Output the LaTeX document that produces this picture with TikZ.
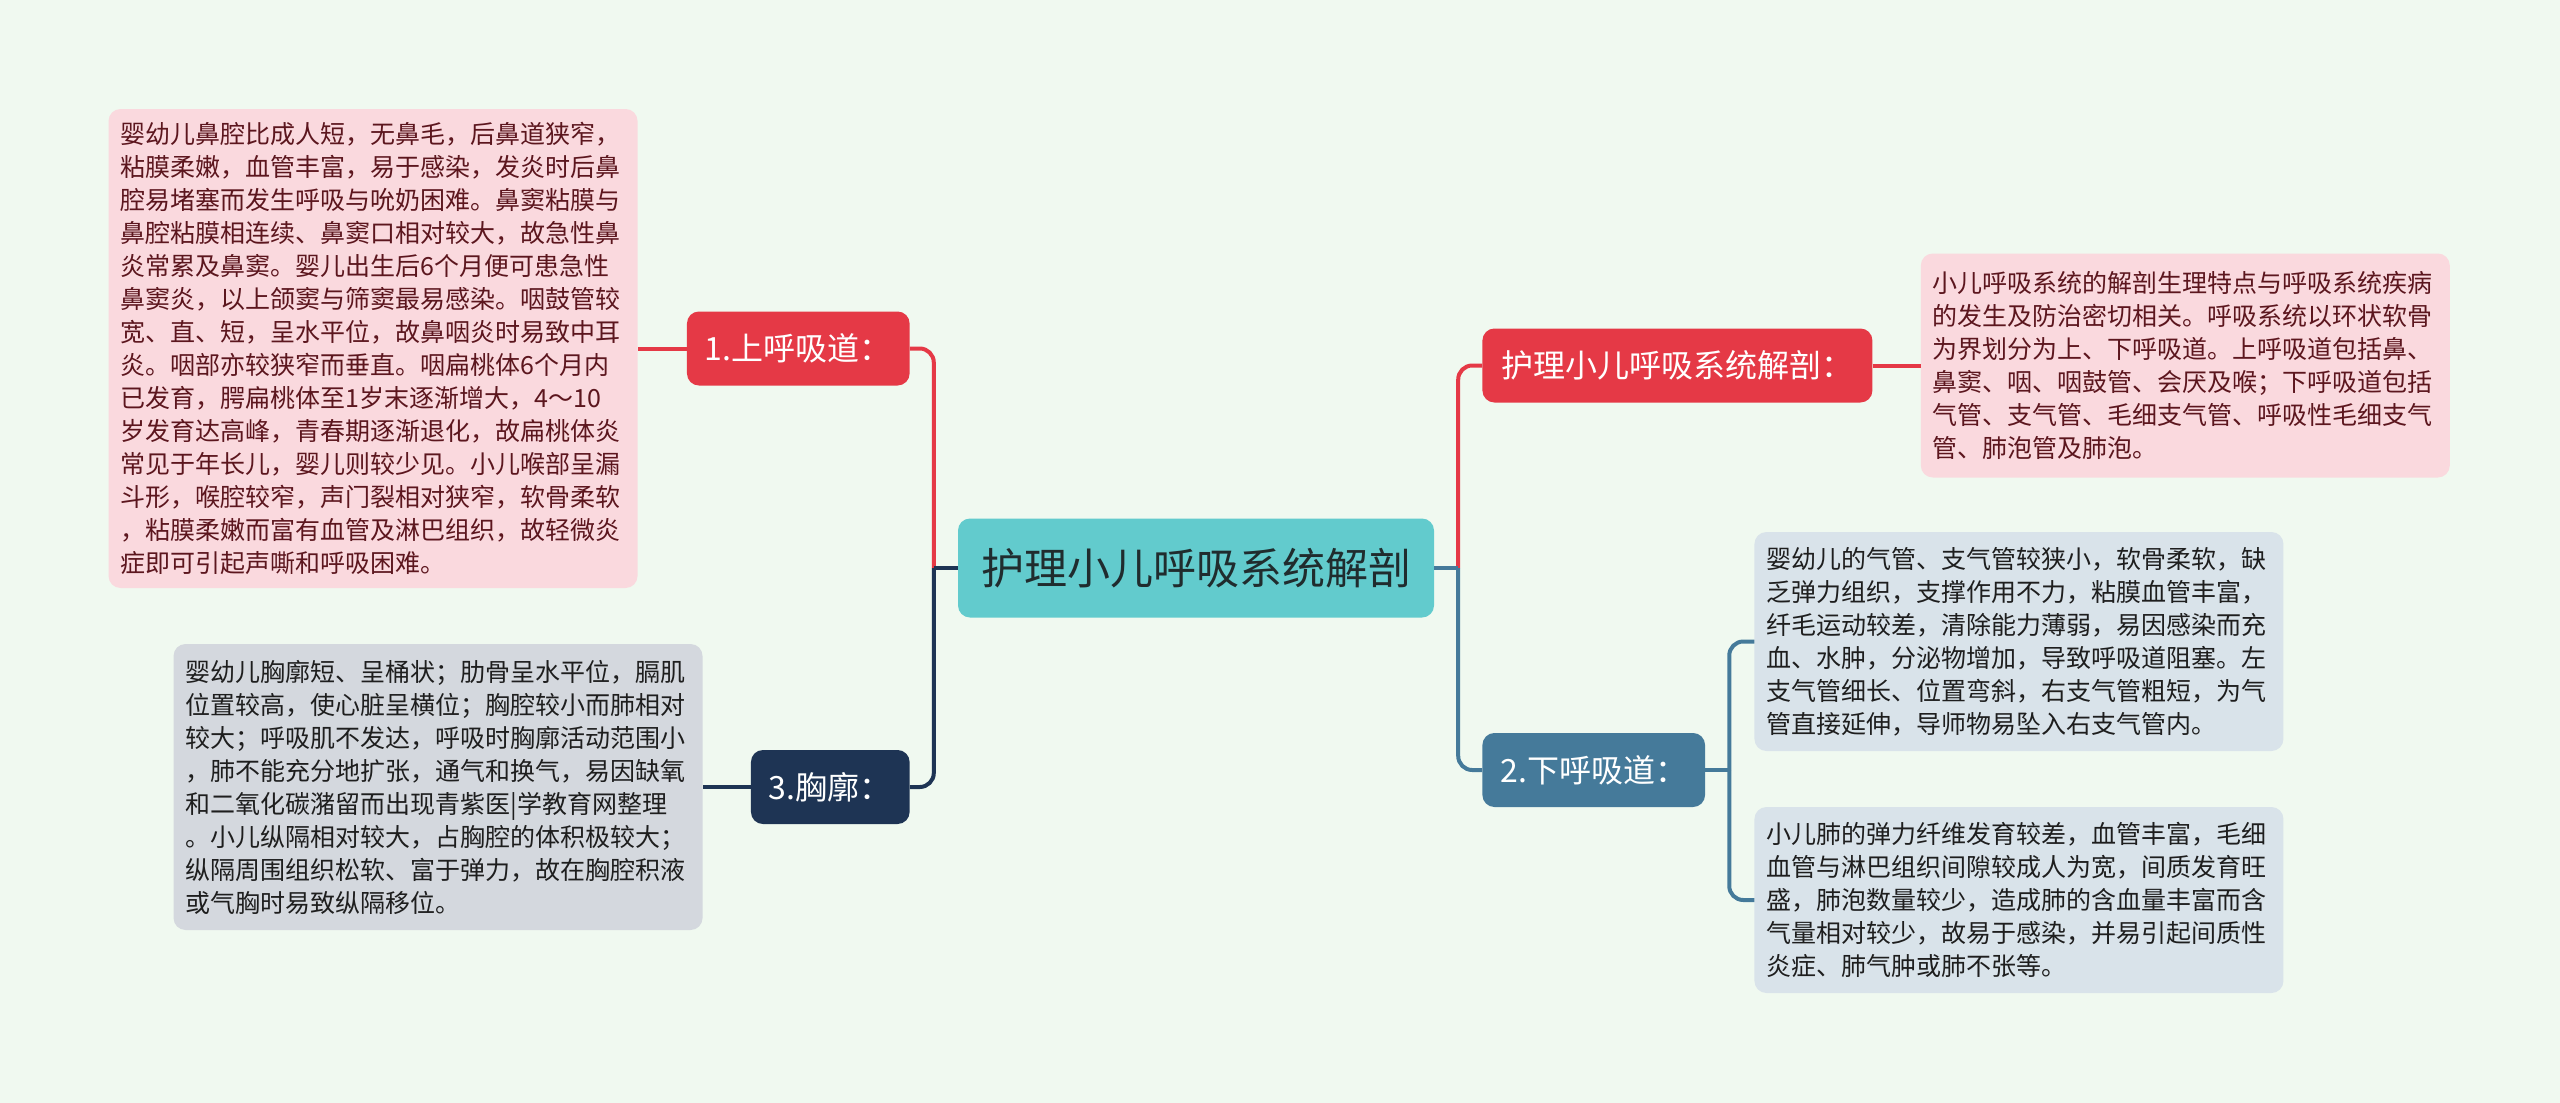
\documentclass[tikz,border=0pt]{standalone}
\usepackage{fontspec}
\setmainfont{Noto Sans CJK SC}
\usetikzlibrary{positioning}
\definecolor{bgmint}{RGB}{240,249,240}
\definecolor{rootteal}{RGB}{98,203,205}
\definecolor{rootink}{RGB}{32,44,46}
\definecolor{topicred}{RGB}{229,57,70}
\definecolor{topicnavy}{RGB}{30,52,84}
\definecolor{topicsteel}{RGB}{69,122,154}
\definecolor{notepink}{RGB}{250,217,222}
\definecolor{pinkink}{RGB}{92,22,30}
\definecolor{notegrey}{RGB}{212,216,222}
\definecolor{noteblue}{RGB}{217,227,234}
\definecolor{noteink}{RGB}{30,30,30}

\begin{document}
\begin{tikzpicture}[x=1pt, y=1pt,
  rootbox/.style={fill=rootteal, rounded corners=12pt, minimum width=476pt,
    minimum height=99pt, text=rootink, font=\fontsize{43}{50}\selectfont},
  topic/.style={rounded corners=12pt, minimum height=74pt, inner xsep=18pt,
    text=white, font=\fontsize{32}{38}\selectfont},
  redtopic/.style={topic, fill=topicred},
  navytopic/.style={topic, fill=topicnavy},
  steeltopic/.style={topic, fill=topicsteel},
  note/.style={rounded corners=12pt, text width=505pt, inner xsep=12pt,
    inner ysep=12pt, align=left, font=\fontsize{25}{33}\selectfont},
  pinknote/.style={note, fill=notepink, text=pinkink},
  greynote/.style={note, fill=notegrey, text=noteink},
  bluenote/.style={note, fill=noteblue, text=noteink},
  link/.style={line width=4pt, rounded corners=14pt},
  redline/.style={link, topicred},
  navyline/.style={link, topicnavy},
  steelline/.style={link, topicsteel}
]
\fill[bgmint] (0,0) rectangle (2560,-1103);
\useasboundingbox (0,0) rectangle (2560,-1103);

\node[rootbox] (root) at (1196,-568) {护理小儿呼吸系统解剖};

\node[redtopic, left=48pt of root, yshift=219.5pt, minimum width=222pt] (upper) {1.上呼吸道：};
\node[navytopic, left=48pt of root, yshift=-219pt, minimum width=156pt] (chest) {3.胸廓：};
\node[redtopic, right=48pt of root, yshift=202.5pt, minimum width=390pt] (rtop) {护理小儿呼吸系统解剖：};
\node[steeltopic, right=48pt of root, yshift=-202pt, minimum width=221pt] (lower) {2.下呼吸道：};

\node[pinknote, left=49pt of upper, minimum height=479pt] (upnote)
  {婴幼儿鼻腔比成人短，无鼻毛，后鼻道狭窄，\\
   粘膜柔嫩，血管丰富，易于感染，发炎时后鼻\\
   腔易堵塞而发生呼吸与吮奶困难。鼻窦粘膜与\\
   鼻腔粘膜相连续、鼻窦口相对较大，故急性鼻\\
   炎常累及鼻窦。婴儿出生后6个月便可患急性\\
   鼻窦炎，以上颌窦与筛窦最易感染。咽鼓管较\\
   宽、直、短，呈水平位，故鼻咽炎时易致中耳\\
   炎。咽部亦较狭窄而垂直。咽扁桃体6个月内\\
   已发育，腭扁桃体至1岁末逐渐增大，4～10\\
   岁发育达高峰，青春期逐渐退化，故扁桃体炎\\
   常见于年长儿，婴儿则较少见。小儿喉部呈漏\\
   斗形，喉腔较窄，声门裂相对狭窄，软骨柔软\\
   ，粘膜柔嫩而富有血管及淋巴组织，故轻微炎\\
   症即可引起声嘶和呼吸困难。};

\node[greynote, left=48pt of chest, minimum height=286pt] (chestnote)
  {婴幼儿胸廓短、呈桶状；肋骨呈水平位，膈肌\\
   位置较高，使心脏呈横位；胸腔较小而肺相对\\
   较大；呼吸肌不发达，呼吸时胸廓活动范围小\\
   ，肺不能充分地扩张，通气和换气，易因缺氧\\
   和二氧化碳潴留而出现青紫医|学教育网整理\\
   。小儿纵隔相对较大，占胸腔的体积极较大；\\
   纵隔周围组织松软、富于弹力，故在胸腔积液\\
   或气胸时易致纵隔移位。};

\node[pinknote, right=48pt of rtop, minimum height=224pt] (rtopnote)
  {小儿呼吸系统的解剖生理特点与呼吸系统疾病\\
   的发生及防治密切相关。呼吸系统以环状软骨\\
   为界划分为上、下呼吸道。上呼吸道包括鼻、\\
   鼻窦、咽、咽鼓管、会厌及喉；下呼吸道包括\\
   气管、支气管、毛细支气管、呼吸性毛细支气\\
   管、肺泡管及肺泡。};

\node[bluenote, right=49pt of lower, yshift=128.5pt, minimum height=219pt] (lownotea)
  {婴幼儿的气管、支气管较狭小，软骨柔软，缺\\
   乏弹力组织，支撑作用不力，粘膜血管丰富，\\
   纤毛运动较差，清除能力薄弱，易因感染而充\\
   血、水肿，分泌物增加，导致呼吸道阻塞。左\\
   支气管细长、位置弯斜，右支气管粗短，为气\\
   管直接延伸，导师物易坠入右支气管内。};

\node[bluenote, right=49pt of lower, yshift=-130pt, minimum height=186pt] (lownoteb)
  {小儿肺的弹力纤维发育较差，血管丰富，毛细\\
   血管与淋巴组织间隙较成人为宽，间质发育旺\\
   盛，肺泡数量较少，造成肺的含血量丰富而含\\
   气量相对较少，故易于感染，并易引起间质性\\
   炎症、肺气肿或肺不张等。};

\coordinate (jl) at ([xshift=-24pt]root.west);
\coordinate (jr) at ([xshift=24pt]root.east);
\coordinate (jd) at ([xshift=24pt]lower.east);

\draw[redline] (upper.east) -| (jl);
\draw[redline] (upper.west) -- (upnote.east);
\draw[navyline] (root.west) -- (jl);
\draw[navyline] (chest.east) -| (jl);
\draw[navyline] (chest.west) -- (chestnote.east);

\draw[redline] (jr) |- (rtop.west);
\draw[redline] (rtop.east) -- (rtopnote.west);
\draw[steelline] (root.east) -- (jr);
\draw[steelline] (jr) |- (lower.west);

\draw[steelline] (lower.east) -- (jd);
\draw[steelline] (jd) |- (lownotea.west);
\draw[steelline] (jd) |- (lownoteb.west);
\end{tikzpicture}
\end{document}
